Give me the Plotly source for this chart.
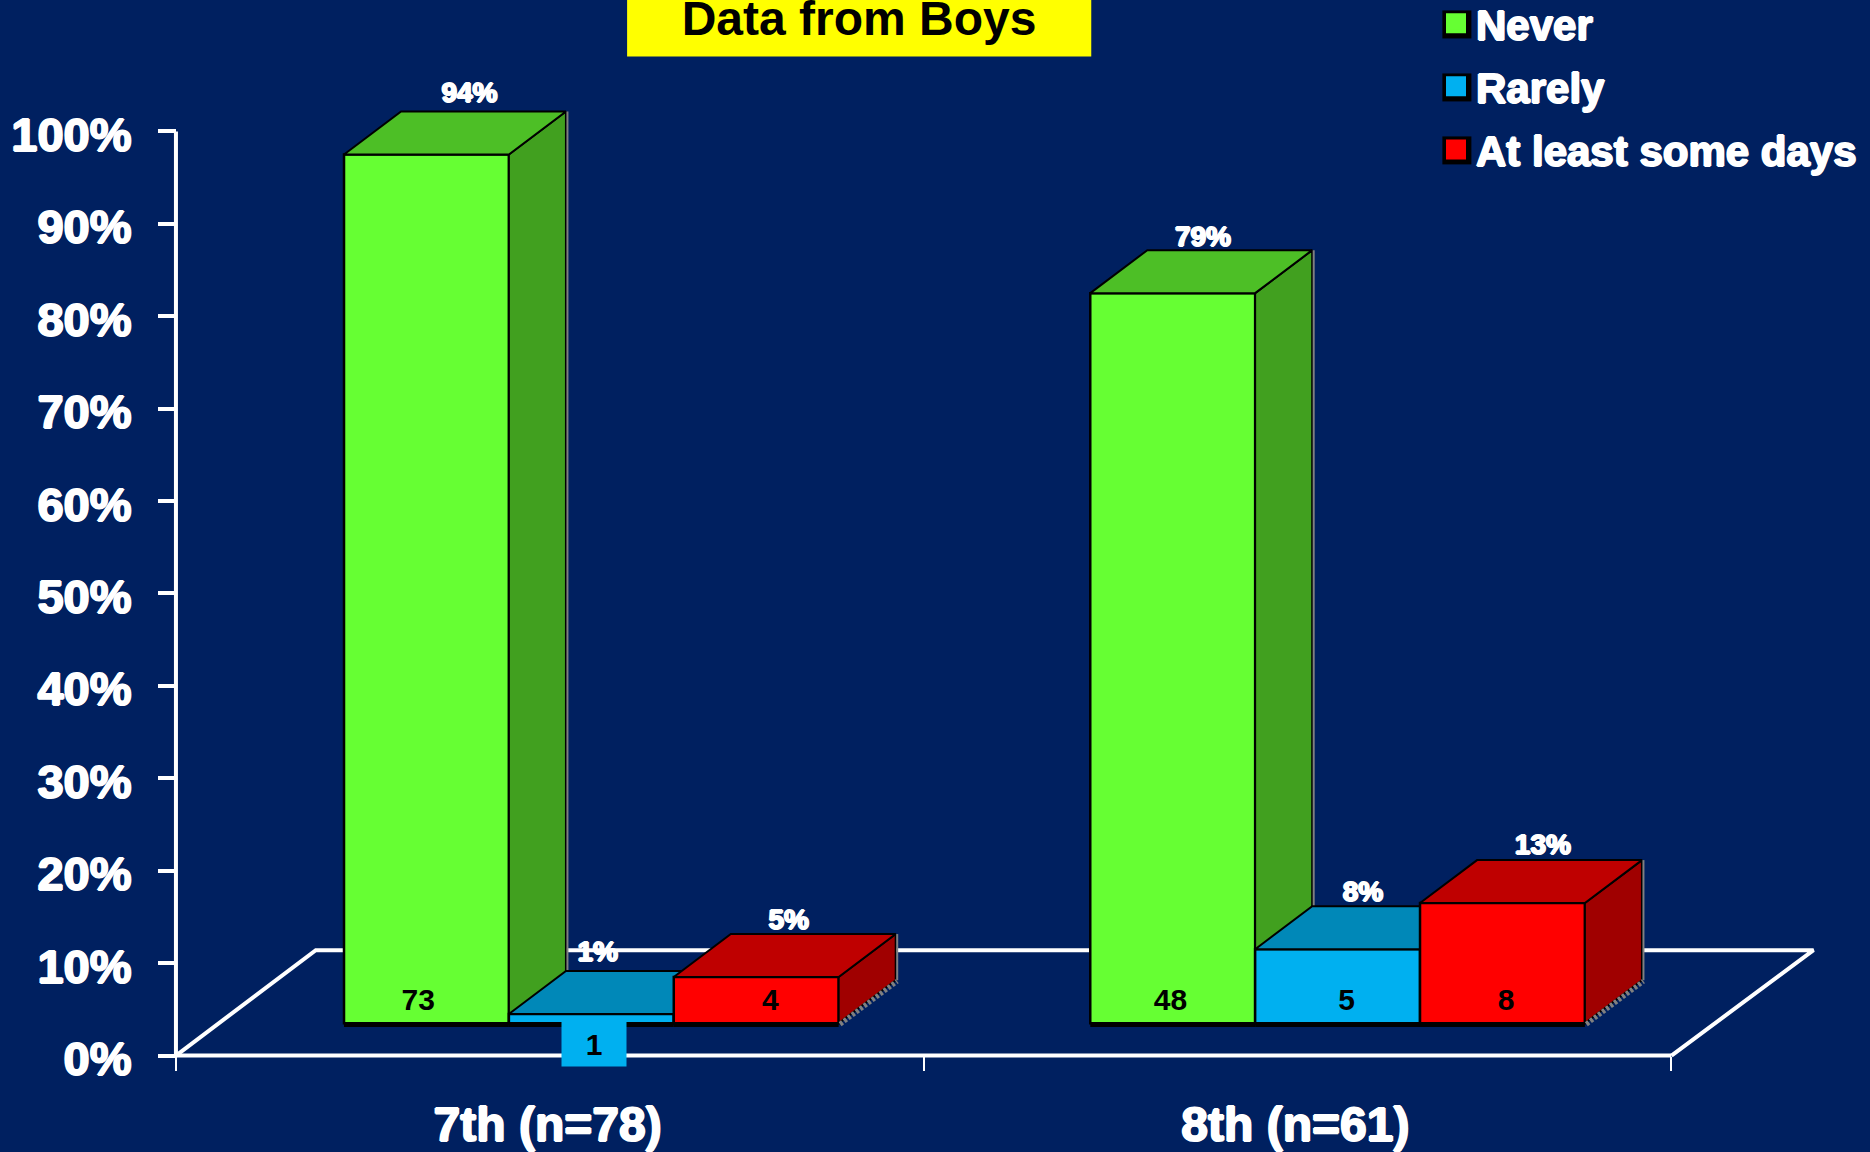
import plotly.graph_objects as go

# ---- data ----
grades = ["7th (n=78)", "8th (n=61)"]
series_names = ["Never", "Rarely", "At least some days"]
never_pct = [94, 79]
rarely_pct = [1, 8]
some_days_pct = [5, 13]
never_n = [73, 48]
rarely_n = [1, 5]
some_days_n = [4, 8]
y_ticks = list(range(0, 101, 10))

# ---- styling ----
BG = "#002060"
FONT = "Liberation Sans, Arial, sans-serif"
front_colors = ["#66FF33", "#00B0F0", "#FF0000"]
top_colors = ["#4DBF26", "#0088B8", "#BF0000"]
side_colors = ["#41A01F", "#006E96", "#A00000"]
GRAY = "#808080"
FAT = "1px 0 0 white, -1px 0 0 white, 0 1px 0 white, 0 -1px 0 white"

# ---- axis placement: 0..2 on x spans px 176..1671, 0..100 on y spans px 1055..131 ----
W, H = 1870, 1152
X0_PX, X2_PX, Y0_PX, Y100_PX = 176, 1671, 1055.5, 131
PX_PER_X = (X2_PX - X0_PX) / 2
PX_PER_Y = (Y0_PX - Y100_PX) / 100
X_RANGE = [-0.02, 2.2]
Y_RANGE = [-6, 110]
L = X0_PX + X_RANGE[0] * PX_PER_X
R = X0_PX + X_RANGE[1] * PX_PER_X
B = Y0_PX - Y_RANGE[0] * PX_PER_Y
T = Y0_PX - Y_RANGE[1] * PX_PER_Y

# ---- pseudo-3D geometry, in axis units ----
FLOOR_DX, FLOOR_DY = 0.187, 11.4
BASE = 3.5
BAR_W = 0.2205
DX, DY = 0.0763, 4.65
GROUP_C = 0.5555
GROUP_STEP = 0.998

# label nudges
pct_dx = [[0.0575, 0.0405], [0.0085, 0.034], [0.0435, 0.054]]
pct_dy = [[0, -0.6], [0, -0.5], [-0.5, -0.4]]
n_dx = [[-0.011, -0.003], [0, 0.012], [0.019, 0.005]]


def px_x(p):
    return (p - L) / (R - L)


def px_y(p):
    return (B - p) / (B - T)


def bar_x(group, s):
    return group * GROUP_STEP + GROUP_C + (s - 1) * BAR_W


def polygon_trace(points, color, xa, ya):
    return go.Scatter(x=[p[0] for p in points], y=[p[1] for p in points], mode="lines",
                      fill="toself", fillcolor=color, line=dict(color="black", width=2),
                      xaxis=xa, yaxis=ya, showlegend=False, hoverinfo="skip")


fig = go.Figure()

# floor and axis lines on the lowest layer
fig.add_trace(go.Scatter(x=[0, FLOOR_DX, 2.19, 2], y=[0, FLOOR_DY, FLOOR_DY, 0], mode="lines",
                         line=dict(color="white", width=4), showlegend=False, hoverinfo="skip"))
fig.add_trace(go.Scatter(x=[0, 2], y=[0, 0], mode="lines", line=dict(color="white", width=4),
                         showlegend=False, hoverinfo="skip"))
fig.add_trace(go.Scatter(x=[0, 0], y=[0, 100], mode="lines", line=dict(color="white", width=4),
                         showlegend=False, hoverinfo="skip"))

pcts = [never_pct, rarely_pct, some_days_pct]
ns = [never_n, rarely_n, some_days_n]

for s, (name, vals, counts) in enumerate(zip(series_names, pcts, ns)):
    xa, ya = f"x{s + 2}", f"y{s + 2}"
    xs = [bar_x(g, s) for g in range(len(grades))]
    # front faces
    fig.add_trace(go.Bar(x=xs, y=vals, base=BASE, width=BAR_W, name=name, xaxis=xa, yaxis=ya,
                         marker=dict(color=front_colors[s], line=dict(color="black", width=2.5)),
                         showlegend=False, hoverinfo="skip"))
    # top and side faces
    top, side, gray_x, gray_y, dot_x, dot_y, base_x, base_y = [], [], [], [], [], [], [], []
    for x, v in zip(xs, vals):
        xl, xr = x - BAR_W / 2, x + BAR_W / 2
        t = BASE + v
        top += [(xl, t), (xr, t), (xr + DX, t + DY), (xl + DX, t + DY), (xl, t), (None, None)]
        side += [(xr, BASE), (xr, t), (xr + DX, t + DY), (xr + DX, BASE + DY), (xr, BASE), (None, None)]
        gray_x += [xr + DX + 0.002, xr + DX + 0.002, None]
        gray_y += [BASE + DY, t + DY, None]
        dot_x += [xr + 0.002, xr + DX + 0.002, None]
        dot_y += [BASE - 0.1, BASE + DY - 0.1, None]
        base_x += [xl, xr, None]
        base_y += [BASE - 0.15, BASE - 0.15, None]
    fig.add_trace(polygon_trace(side, side_colors[s], xa, ya))
    fig.add_trace(polygon_trace(top, top_colors[s], xa, ya))
    fig.add_trace(go.Scatter(x=gray_x, y=gray_y, mode="lines", line=dict(color=GRAY, width=2),
                             xaxis=xa, yaxis=ya, showlegend=False, hoverinfo="skip"))
    if s == 2:
        fig.add_trace(go.Scatter(x=dot_x, y=dot_y, mode="lines", line=dict(color=GRAY, width=5, dash="3px,2px"),
                                 xaxis=xa, yaxis=ya, showlegend=False, hoverinfo="skip"))
    fig.add_trace(go.Scatter(x=base_x, y=base_y, mode="lines", line=dict(color="black", width=5),
                             xaxis=xa, yaxis=ya, showlegend=False, hoverinfo="skip"))
    # percentage labels above the bars
    fig.add_trace(go.Scatter(
        x=[x + d for x, d in zip(xs, pct_dx[s])],
        y=[BASE + v + DY + 1.8 + d for v, d in zip(vals, pct_dy[s])],
        text=[f"{v}%" for v in vals], mode="text", textposition="middle center",
        textfont=dict(family=FONT, size=28, color="white", weight=700, shadow=FAT),
        xaxis=xa, yaxis=ya, showlegend=False, hoverinfo="skip"))
    # count labels inside the bars (the single tiny bar gets a boxed annotation instead)
    keep = [i for i, v in enumerate(vals) if v > 2]
    fig.add_trace(go.Scatter(
        x=[xs[i] + n_dx[s][i] for i in keep], y=[BASE + 2.2] * len(keep),
        text=[str(counts[i]) for i in keep], mode="text", textposition="middle center",
        textfont=dict(family=FONT, size=30, color="black", weight=700),
        xaxis=xa, yaxis=ya, showlegend=False, hoverinfo="skip"))

# legend entries
for s, name in enumerate(series_names):
    fig.add_trace(go.Scatter(x=[None], y=[None], mode="markers", name=name, legendgroup=name,
                             marker=dict(symbol="square", size=16, color=front_colors[s],
                                         line=dict(color=front_colors[s], width=4)),
                             hoverinfo="skip"))

shapes = [dict(type="rect", xref="paper", yref="paper", x0=px_x(627), x1=px_x(1091), y0=px_y(56), y1=px_y(-5),
               fillcolor="#FFFF00", line=dict(width=0), layer="below")]
for yc in (24, 87, 150):
    shapes.append(dict(type="rect", xref="paper", yref="paper", x0=px_x(1442), x1=px_x(1471),
                       y0=px_y(yc + 14), y1=px_y(yc - 14), fillcolor="black", line=dict(width=0), layer="below"))

annotations = [dict(x=bar_x(0, 1) + 0.004, y=1.3, xref="x", yref="y", text=str(rarely_n[0]), showarrow=False,
                    width=64, height=44, bgcolor="#00B0F0", borderpad=0,
                    font=dict(family=FONT, size=30, color="black", weight=700))]

layout_axes = {}
for i in range(2, 5):
    layout_axes[f"xaxis{i}"] = dict(overlaying="x", range=X_RANGE, visible=False, fixedrange=True)
    layout_axes[f"yaxis{i}"] = dict(overlaying="y", range=Y_RANGE, visible=False, fixedrange=True)

fig.update_layout(
    width=W, height=H, autosize=False,
    margin=dict(l=L, r=W - R, t=T, b=H - B, pad=0, autoexpand=False),
    paper_bgcolor=BG, plot_bgcolor=BG,
    barmode="overlay",
    title=dict(text="Data from Boys", x=859 / W, xanchor="center", xref="container",
               y=1 - 18 / H, yanchor="middle", yref="container", automargin=False,
               font=dict(family=FONT, size=48, color="black", weight=700)),
    xaxis=dict(range=X_RANGE, anchor="free", position=-Y_RANGE[0] / (Y_RANGE[1] - Y_RANGE[0]),
               tickmode="array", tickvals=[0.497, 1.497], ticktext=grades,
               ticks="", tickfont=dict(family=FONT, size=48, color="white", weight=700, shadow=FAT),
               ticklabelstandoff=36, showgrid=False, zeroline=False,
               showline=False, fixedrange=True,
               minor=dict(tickmode="array", tickvals=[0, 1, 2], ticks="outside", ticklen=14,
                          tickwidth=2, tickcolor="white", showgrid=False)),
    yaxis=dict(range=Y_RANGE, anchor="free", position=-X_RANGE[0] / (X_RANGE[1] - X_RANGE[0]),
               tickmode="array", tickvals=y_ticks, ticktext=[f"{v}%" for v in y_ticks],
               ticks="outside", ticklen=18, tickwidth=4, tickcolor="white",
               tickfont=dict(family=FONT, size=47, color="white", weight=700, shadow=FAT),
               ticklabelstandoff=17, ticklabelshift=3, showgrid=False, zeroline=False,
               showline=False, fixedrange=True),
    legend=dict(x=1436 / W, xref="container", xanchor="left",
                y=1 + (T + 11) / (B - T), yref="paper", yanchor="top",
                bgcolor="rgba(0,0,0,0)", borderwidth=0, tracegroupgap=5.5, traceorder="grouped",
                font=dict(family=FONT, size=42, color="white", weight=700, shadow=FAT)),
    shapes=shapes, annotations=annotations, **layout_axes,
)

fig.write_html("out.html", config={"displayModeBar": False},
               post_script="document.body.style.margin='0';document.body.style.overflow='hidden';")
